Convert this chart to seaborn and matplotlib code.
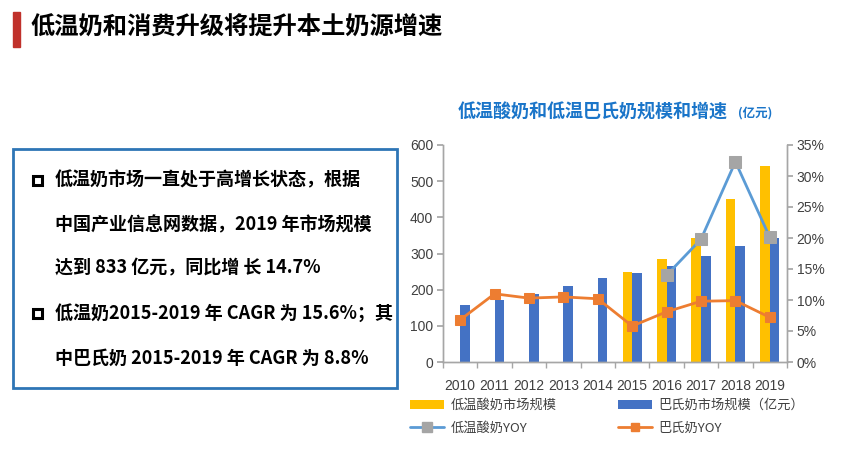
import numpy as np
import pandas as pd
import matplotlib
matplotlib.use("Agg")
import matplotlib.pyplot as plt
import seaborn as sns
from matplotlib.patches import Rectangle, Patch
from matplotlib.lines import Line2D
from matplotlib.ticker import FuncFormatter

# data
years = ["2010", "2011", "2012", "2013", "2014", "2015", "2016", "2017", "2018", "2019"]
yogurt_size = [np.nan, np.nan, np.nan, np.nan, np.nan, 250, 286, 342, 452, 543]
pasteur_size = [157, 171, 189, 210, 233, 245, 265, 293, 320, 344]
yogurt_yoy = [np.nan, np.nan, np.nan, np.nan, np.nan, np.nan, 14.0, 19.8, 32.3, 20.1]
pasteur_yoy = [6.8, 11.0, 10.3, 10.5, 10.2, 5.8, 8.1, 9.8, 9.9, 7.2]

lbl_yogurt = "低温酸奶市场规模"
lbl_pasteur = "巴氏奶市场规模（亿元）"
lbl_yogurt_yoy = "低温酸奶YOY"
lbl_pasteur_yoy = "巴氏奶YOY"

yellow = "#FFC000"
blue = "#4472C4"
light_blue = "#5B9BD5"
gray = "#A5A5A5"
orange = "#ED7D31"

sns.set_theme(style="white")
plt.rcParams['font.family'] = ['Noto Sans CJK SC', 'DejaVu Sans']

fig = plt.figure(figsize=(8.43, 4.58), dpi=100)

# slide title
fig.patches.append(Rectangle((13/843, 1-47/458), 7/843, 35/458, transform=fig.transFigure,
                             color="#C0312B", zorder=5))
fig.text(30/843, 1-28/458, "低温奶和消费升级将提升本土奶源增速", fontsize=17.5,
         fontweight="bold", color="black", va="center", ha="left")

# text box
fig.patches.append(Rectangle((13/843, 1-388/458), 384/843, 239/458, transform=fig.transFigure,
                             fill=False, edgecolor="#2E75B6", lw=2, zorder=5))
lines = [
    ("低温奶市场一直处于高增长状态，根据", True),
    ("中国产业信息网数据，2019 年市场规模", False),
    ("达到 833 亿元，同比增 长 14.7%", False),
    ("低温奶2015-2019 年 CAGR 为 15.6%；其", True),
    ("中巴氏奶 2015-2019 年 CAGR 为 8.8%", False),
]
line_y = [180, 225, 268, 313, 358]
for (txt, bullet), yy in zip(lines, line_y):
    fig.text(55/843, 1-yy/458, txt, fontsize=13, fontweight="bold", color="black",
             family=["Liberation Sans Narrow", "Noto Sans CJK SC", "DejaVu Sans"],
             va="center", ha="left")
    if bullet:
        fig.patches.append(Rectangle((33/843, 1-(yy+5)/458), 9/843, 9/458,
                                     transform=fig.transFigure, fill=False,
                                     edgecolor="black", lw=2.2, zorder=5))

# chart title
fig.text(458/843, 1-112/458, "低温酸奶和低温巴氏奶规模和增速", fontsize=13,
         fontweight="bold", color="#1A75C9", va="center", ha="left")
fig.text(738/843, 1-113/458, "(亿元)", fontsize=9, fontweight="bold",
         color="#1A75C9", va="center", ha="left")

ax = fig.add_axes([443/843, 1-362/458, 344/843, 217/458])

df = pd.DataFrame({
    "year": years * 2,
    "size": yogurt_size + pasteur_size,
    "series": [lbl_yogurt] * len(years) + [lbl_pasteur] * len(years),
})
sns.barplot(data=df, x="year", y="size", hue="series", hue_order=[lbl_yogurt, lbl_pasteur],
            palette=[yellow, blue], width=0.56, saturation=1, errorbar=None,
            legend=False, linewidth=0, edgecolor="none", ax=ax)
ax.set_ylim(0, 600)
ax.set_yticks(range(0, 601, 100))
ax.set_xlabel("")
ax.set_ylabel("")

ax2 = ax.twinx()
pos = np.arange(len(years))
sns.lineplot(x=pos, y=yogurt_yoy, ax=ax2, color=light_blue, lw=2, marker="s",
             markersize=9, markerfacecolor=gray, markeredgecolor=gray)
sns.lineplot(x=pos, y=pasteur_yoy, ax=ax2, color=orange, lw=2, marker="s",
             markersize=7.5, markerfacecolor=orange, markeredgecolor=orange)
ax2.set_ylim(0, 35)
ax2.set_yticks(range(0, 36, 5))
ax2.yaxis.set_major_formatter(FuncFormatter(lambda v, p: f"{int(v)}%"))
ax.set_xlim(-0.5, len(years) - 0.5)

for a in (ax, ax2):
    a.spines["top"].set_visible(False)
    for s in ("left", "right", "bottom"):
        a.spines[s].set_color("#A6A6A6")
        a.spines[s].set_linewidth(1)
    a.grid(False)
ax.tick_params(axis="y", left=True, length=4, color="#A6A6A6", labelsize=10,
               labelcolor="#404040", labelfontfamily="Liberation Sans", pad=3)
ax2.tick_params(axis="y", right=True, length=4, color="#A6A6A6", labelsize=10,
                labelcolor="#404040", labelfontfamily="Liberation Sans", pad=3)
ax.tick_params(axis="x", bottom=False, labelsize=10, labelcolor="#404040",
               labelfontfamily="Liberation Sans", pad=6)
ax.set_xticks(np.arange(-0.5, len(years), 1), minor=True)
ax.tick_params(axis="x", which="minor", bottom=True, length=4, color="#A6A6A6")

handles = [
    Patch(facecolor=yellow, edgecolor="none"),
    Line2D([], [], color=light_blue, lw=2, marker="s", markersize=7,
           markerfacecolor=gray, markeredgecolor=gray),
    Patch(facecolor=blue, edgecolor="none"),
    Line2D([], [], color=orange, lw=2, marker="s", markersize=6,
           markerfacecolor=orange, markeredgecolor=orange),
]
labels = [lbl_yogurt, lbl_yogurt_yoy, lbl_pasteur, lbl_pasteur_yoy]
leg = fig.legend(handles, labels, ncol=2, loc="upper left",
                 bbox_to_anchor=(410/843, 1-399/458), frameon=False,
                 fontsize=9.5, handlelength=2.6, handleheight=0.6,
                 handletextpad=0.5, columnspacing=4.6, labelspacing=0.75,
                 borderpad=0, borderaxespad=0)
for t in leg.get_texts():
    t.set_color("#404040")

fig.savefig("out.png", dpi=100)
